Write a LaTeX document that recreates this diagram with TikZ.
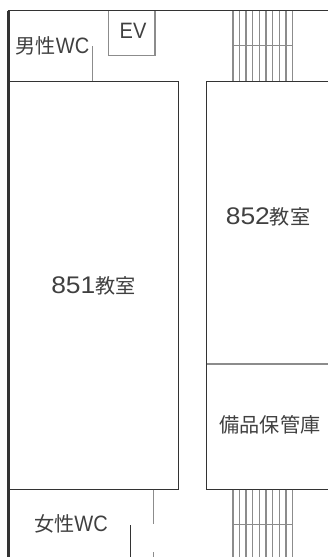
\documentclass[tikz,border=0pt]{standalone}
\usepackage{fontspec}
\setmainfont{Liberation Sans}
\newfontfamily\cjkfont{Noto Sans CJK JP}
\newfontfamily\digitfont[FakeStretch=1.1]{Liberation Sans}
\newfontfamily\letterfont[FakeStretch=0.9]{Liberation Sans}
\newcommand{\kanji}[1]{{\cjkfont\fontsize{17.2pt}{17.2pt}\selectfont #1}}
\newcommand{\roomno}[1]{{\digitfont\fontsize{20.5pt}{20.5pt}\selectfont #1}}
\definecolor{wallgray}{gray}{0.2}
\definecolor{thingray}{gray}{0.55}
\tikzset{
  roomline/.style={draw=wallgray,line width=0.75pt},
  grayline/.style={draw=thingray,line width=0.9pt},
  roomlabel/.style={text=black!75,font=\letterfont\fontsize{19pt}{19pt}\selectfont,inner sep=0pt},
}
\begin{document}
\begin{tikzpicture}[x=0.03cm,y=-0.03cm]
\useasboundingbox (0,0) rectangle (328,557);
% outer walls
\draw [line width=2.6pt,wallgray] (8.5,557) -- (8.5,10.5);
\draw [line width=1.6pt,wallgray] (7.5,10.5) -- (328,10.5);
% rooms
\draw [roomline] (9,81) -- (178,81) -- (178,489.5) -- (9,489.5);
\draw [roomline] (328,81) -- (206.5,81) -- (206.5,489.5) -- (328,489.5);
\draw [grayline] (206.5,364) -- (328,364);
% lift and toilets
\draw [grayline] (108.5,10.5) -- (108.5,55.5) -- (155,55.5) -- (155,10.5);
\draw [grayline] (92.5,46) -- (92.5,81);
\draw [grayline] (153.5,489.5) -- (153.5,524);
\draw [grayline] (153.5,552) -- (153.5,557);
\draw [roomline] (130.5,525) -- (130.5,557);
% stairs
\foreach \xstep in {233,239.5,246,252.5,259.5,266,272.5,279.5,286,292.5} {
  \draw [grayline] (\xstep,10.5) -- (\xstep,81);
  \draw [grayline] (\xstep,489.5) -- (\xstep,557);
}
\draw [grayline] (233,45.5) -- (292.5,45.5);
\draw [grayline] (233,524.5) -- (292.5,524.5);
% labels
\node [roomlabel] (mensWC) at (52.5,46) {\kanji{男性}WC};
\node [roomlabel] (liftEV) at (133,31) {EV};
\node [roomlabel] (room851) at (93.5,286) {\roomno{851}\kanji{教室}};
\node [roomlabel] (room852) at (268,217) {\roomno{852}\kanji{教室}};
\node [roomlabel] (storeroom) at (270,425) {\kanji{備品保管庫}};
\node [roomlabel] (womensWC) at (71,524) {\kanji{女性}WC};
\end{tikzpicture}
\end{document}
